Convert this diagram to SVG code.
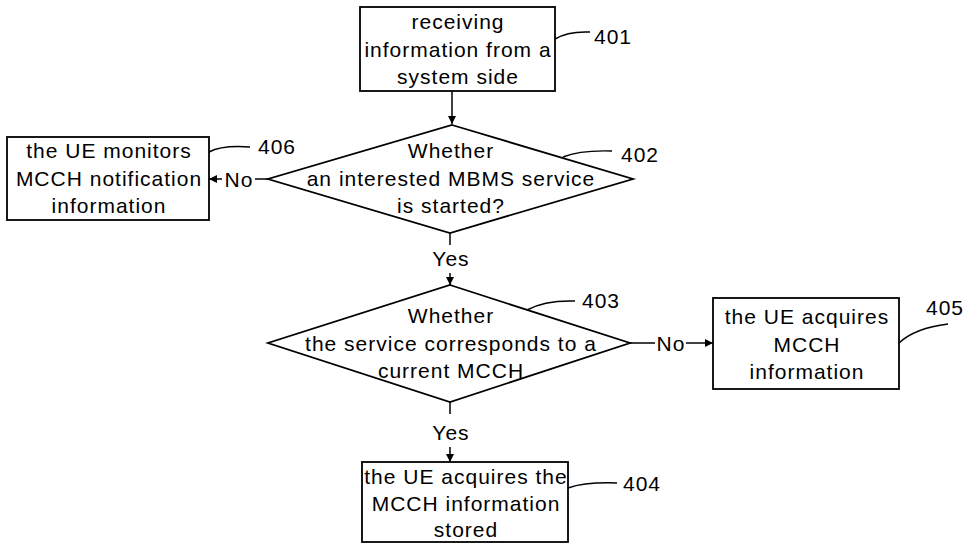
<svg xmlns="http://www.w3.org/2000/svg" width="968" height="544" viewBox="0 0 968 544">
<defs>
<style>
.n{fill:#fff;stroke:#000;stroke-width:1.8}
.t{font-family:"Liberation Sans",Arial,sans-serif;font-size:21px;letter-spacing:1px;fill:#000;text-anchor:middle}
.l{font-family:"Liberation Sans",Arial,sans-serif;font-size:21px;letter-spacing:1px;fill:#000}
.c{fill:none;stroke:#000;stroke-width:1.5}
</style>
<marker id="ah" viewBox="0 0 10 10" refX="10" refY="5" markerWidth="8" markerHeight="8" markerUnits="userSpaceOnUse" orient="auto">
<path d="M0,0 L10,5 L0,10 z" fill="#000"/>
</marker>
</defs>
<rect width="968" height="544" fill="#fff"/>
<g id="connectors">
<line class="c" x1="452" y1="91" x2="452" y2="124" marker-end="url(#ah)"/>
<line class="c" x1="450" y1="233" x2="450" y2="245"/>
<line class="c" x1="450" y1="273" x2="450" y2="285" marker-end="url(#ah)"/>
<line class="c" x1="268" y1="179" x2="255" y2="179"/>
<line class="c" x1="222" y1="179" x2="209" y2="179" marker-end="url(#ah)"/>
<line class="c" x1="630" y1="343" x2="655" y2="343"/>
<line class="c" x1="686" y1="343" x2="713" y2="343" marker-end="url(#ah)"/>
<line class="c" x1="450" y1="402" x2="450" y2="414"/>
<line class="c" x1="450" y1="447" x2="450" y2="462" marker-end="url(#ah)"/>
<text class="t" x="451" y="266">Yes</text>
<text class="t" x="451" y="440">Yes</text>
<text class="t" x="239" y="187">No</text>
<text class="t" x="671" y="351">No</text>
</g>
<g id="n401">
<rect class="n" x="360" y="7" width="195" height="84"/>
<text class="t" x="458" y="29">receiving</text>
<text class="t" x="458" y="57">information from a</text>
<text class="t" x="458" y="84">system side</text>
<path class="c" d="M555,39 Q568,31 590,32"/>
<text class="l" x="594" y="44">401</text>
</g>
<g id="n402">
<polygon class="n" points="452,125 633,179 450,233 268,179"/>
<text class="t" x="451" y="158">Whether</text>
<text class="t" x="451" y="186">an interested MBMS service</text>
<text class="t" x="451" y="213">is started?</text>
<path class="c" d="M563,157 Q580,150 612,151"/>
<text class="l" x="621" y="162">402</text>
</g>
<g id="n403">
<polygon class="n" points="450,285 630,343 450,402 268,343"/>
<text class="t" x="451" y="323">Whether</text>
<text class="t" x="451" y="351">the service corresponds to a</text>
<text class="t" x="451" y="378">current MCCH</text>
<path class="c" d="M527,310 Q545,300 575,301"/>
<text class="l" x="582" y="308">403</text>
</g>
<g id="n404">
<rect class="n" x="362" y="462" width="206" height="80"/>
<text class="t" x="466" y="484">the UE acquires the</text>
<text class="t" x="466" y="511">MCCH information</text>
<text class="t" x="466" y="537">stored</text>
<path class="c" d="M568,488 Q585,482 617,483"/>
<text class="l" x="623" y="491">404</text>
</g>
<g id="n405">
<rect class="n" x="713" y="298" width="186" height="91"/>
<text class="t" x="807" y="324">the UE acquires</text>
<text class="t" x="807" y="352">MCCH</text>
<text class="t" x="807" y="379">information</text>
<path class="c" d="M899,343 Q915,328 948,324"/>
<text class="l" x="926" y="315">405</text>
</g>
<g id="n406">
<rect class="n" x="7" y="137" width="202" height="83"/>
<text class="t" x="109" y="158">the UE monitors</text>
<text class="t" x="109" y="186">MCCH notification</text>
<text class="t" x="109" y="213">information</text>
<path class="c" d="M209,152 Q222,145 250,147"/>
<text class="l" x="258" y="154">406</text>
</g>
</svg>
